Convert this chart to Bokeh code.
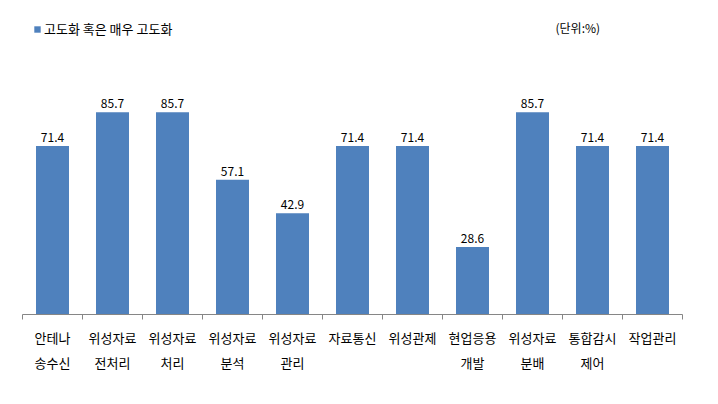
from bokeh.plotting import figure
from bokeh.models import ColumnDataSource, FixedTicker, Legend, LegendItem, Range1d, LinearAxis
from bokeh.embed import file_html
from bokeh.resources import INLINE
from bokeh.core.properties import value

line1 = ["안테나", "위성자료", "위성자료", "위성자료", "위성자료", "자료통신", "위성관제", "현업응용", "위성자료", "통합감시", "작업관리"]
line2 = ["송수신", "전처리", "처리", "분석", "관리", "", "", "개발", "분배", "제어", ""]
values = [71.4, 85.7, 85.7, 57.1, 42.9, 71.4, 71.4, 28.6, 85.7, 71.4, 71.4]
series_name = "고도화 혹은 매우 고도화"
unit_text = "(단위:%)"

FONT = "Noto Sans CJK KR"
BAR = "#4F81BD"
AXIS = "#868686"

n = len(values)
xs = [i + 0.5 for i in range(n)]
src = ColumnDataSource(dict(x=xs, top=values, lbl=[f"{v:.1f}" for v in values]))

px_per_unit = 2.36
y_top = 314 / px_per_unit

p = figure(width=718, height=404, output_backend="svg", toolbar_location=None,
           x_range=Range1d(0, n), y_range=Range1d(0, y_top),
           min_border_left=22, min_border_right=36, min_border_top=0, min_border_bottom=90,
           x_axis_location=None, y_axis_location=None)
p.outline_line_color = None
p.xgrid.visible = False
p.ygrid.visible = False

r = p.vbar(x="x", top="top", width=0.55, bottom=0, source=src, fill_color=BAR, line_color=None)
p.text(x="x", y="top", text="lbl", source=src, text_align="center", text_baseline="bottom",
       y_offset=-4, text_font=value(FONT), text_font_size="12px", text_color="#000000")

centers = xs
bounds = list(range(n + 1))

ax1 = LinearAxis(ticker=FixedTicker(ticks=centers, minor_ticks=bounds),
                 major_label_overrides={c: t for c, t in zip(centers, line1)})
ax1.axis_line_color = AXIS
ax1.major_tick_line_color = None
ax1.major_tick_in = 0
ax1.major_tick_out = 0
ax1.minor_tick_line_color = AXIS
ax1.minor_tick_in = 0
ax1.minor_tick_out = 5
ax1.major_label_standoff = 8
ax1.major_label_text_font = FONT
ax1.major_label_text_font_size = "13px"
ax1.major_label_text_color = "#000000"
p.add_layout(ax1, "below")

ax2 = LinearAxis(ticker=FixedTicker(ticks=centers),
                 major_label_overrides={c: t for c, t in zip(centers, line2)})
ax2.axis_line_color = None
ax2.major_tick_line_color = None
ax2.minor_tick_line_color = None
ax2.major_tick_in = 0
ax2.major_tick_out = 0
ax2.major_label_standoff = 3
ax2.major_label_text_font = FONT
ax2.major_label_text_font_size = "13px"
ax2.major_label_text_color = "#000000"
p.add_layout(ax2, "below")

p.text(x=[(555 - 22) / 60.0], y=[(314 - 27) / px_per_unit], text=[unit_text],
       text_align="left", text_baseline="middle", text_font=value(FONT),
       text_font_size="12px", text_color="#000000")

legend = Legend(items=[LegendItem(label=series_name, renderers=[r])],
                location=(11, 276), orientation="horizontal",
                glyph_width=8, glyph_height=8, label_standoff=3, padding=0, margin=0,
                border_line_color=None, background_fill_alpha=0,
                label_text_font=FONT, label_text_font_size="13px", label_height=14,
                label_text_color="#000000")
p.add_layout(legend, "center")

open("out.html", "w").write(file_html(p, INLINE))
